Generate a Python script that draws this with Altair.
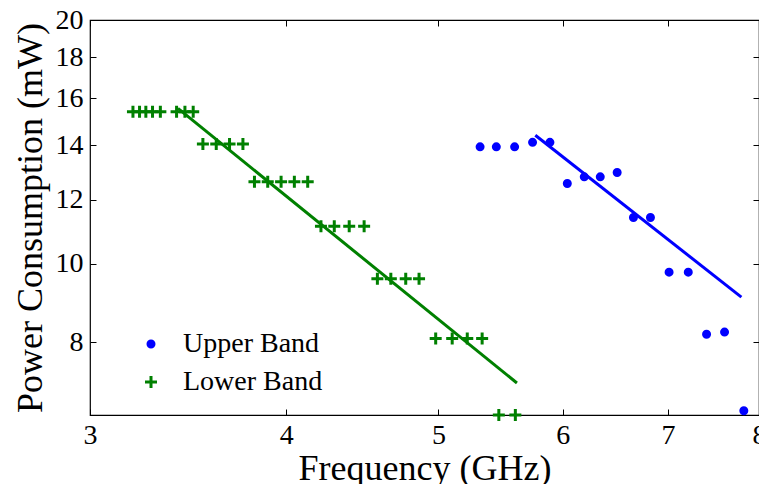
import altair as alt
import pandas as pd

# ---- data ----
upper_freq = [5.315, 5.443, 5.591, 5.740, 5.888, 6.040, 6.192, 6.339, 6.498,
              6.655, 6.823, 7.012, 7.212, 7.408, 7.606, 7.824]
upper_power = [13.94, 13.94, 13.94, 14.12, 14.12, 12.56, 12.80, 12.80, 12.96,
               11.40, 11.40, 9.76, 9.76, 8.18, 8.23, 6.58]

lower_freq = [3.195, 3.226, 3.256, 3.288, 3.326, 3.406, 3.448, 3.490,
              3.540, 3.610, 3.681, 3.754,
              3.818, 3.893, 3.970, 4.048, 4.128,
              4.209, 4.292, 4.387, 4.484,
              4.572, 4.663, 4.766, 4.860,
              4.980, 5.102, 5.216, 5.331,
              5.463, 5.597]
lower_power = [15.40, 15.40, 15.40, 15.40, 15.40, 15.40, 15.40, 15.40,
               14.05, 14.05, 14.05, 14.05,
               12.62, 12.62, 12.62, 12.62, 12.62,
               11.12, 11.12, 11.12, 11.12,
               9.58, 9.58, 9.58, 9.58,
               8.08, 8.08, 8.08, 8.08,
               6.50, 6.50]

upper_fit_freq = [5.763, 7.796]
upper_fit_power = [14.41, 9.09]
lower_fit_freq = [3.413, 5.610]
lower_fit_power = [15.55, 7.12]

x_ticks = [3, 4, 5, 6, 7, 8]
y_ticks = [8, 10, 12, 14, 16, 18, 20]
bands = ["Upper Band", "Lower Band"]

points = pd.DataFrame({
    "freq": upper_freq + lower_freq,
    "power": upper_power + lower_power,
    "band": [bands[0]] * len(upper_freq) + [bands[1]] * len(lower_freq),
})
fit_up = pd.DataFrame({"freq": upper_fit_freq, "power": upper_fit_power})
fit_lo = pd.DataFrame({"freq": lower_fit_freq, "power": lower_fit_power})

BLUE = "#0000ff"
GREEN = "#008000"
CIRCLE = "M0.5,0A0.5,0.5,0,1,1,-0.5,0A0.5,0.5,0,1,1,0.5,0Z"
CROSS = "M-1,0H1M0,-1V1"
FONT = "Liberation Serif"

xscale = alt.Scale(type="log", domain=[3, 8], nice=False)
yscale = alt.Scale(type="log", domain=[6.5, 20], nice=False)

pts = alt.Chart(points).mark_point(strokeWidth=3, size=144, opacity=1).encode(
    x=alt.X("freq:Q", scale=xscale, title="Frequency (GHz)",
            axis=alt.Axis(orient="bottom", values=x_ticks, format="d", offset=-6,
                          tickSize=6, labelPadding=6, titlePadding=2,
                          labelOverlap=False, labelFlush=False)),
    y=alt.Y("power:Q", scale=yscale, title="Power Consumption (mW)",
            axis=alt.Axis(orient="left", values=y_ticks, format="d", offset=-6,
                          tickSize=6, labelPadding=7, titlePadding=6,
                          labelOverlap=False, labelFlush=False)),
    shape=alt.Shape("band:N", scale=alt.Scale(domain=bands, range=[CIRCLE, CROSS]), title=None),
    stroke=alt.Stroke("band:N", scale=alt.Scale(domain=bands, range=[BLUE, GREEN]), title=None),
    fill=alt.Fill("band:N", scale=alt.Scale(domain=bands, range=[BLUE, "transparent"]), title=None),
)

line_up = alt.Chart(fit_up).mark_line(color=BLUE, strokeWidth=3).encode(
    x=alt.X("freq:Q", scale=xscale, axis=None),
    y=alt.Y("power:Q", scale=yscale, axis=None),
)

line_lo = alt.Chart(fit_lo).mark_line(color=GREEN, strokeWidth=3).encode(
    x=alt.X("freq:Q", scale=xscale, title=None,
            axis=alt.Axis(orient="top", values=x_ticks, offset=-6, tickSize=6,
                          labels=False)),
    y=alt.Y("power:Q", scale=yscale, title=None,
            axis=alt.Axis(orient="right", values=y_ticks, offset=-6, tickSize=6,
                          labels=False)),
)

chart = alt.layer(pts, line_up, line_lo).resolve_axis(
    x="independent", y="independent"
).properties(
    width=669, height=395,
    padding={"left": 82, "top": 12, "right": 0, "bottom": 72},
    autosize=alt.AutoSizeParams(type="none"),
).configure(
    font=FONT,
).configure_axis(
    labelFont=FONT, labelFontSize=28, labelColor="black",
    titleFont=FONT, titleFontSize=36, titleFontWeight="normal", titleColor="black",
    tickColor="black", tickWidth=1, grid=False, domain=False,
).configure_view(
    stroke="black", strokeWidth=1.2,
).configure_legend(
    orient="none", legendX=47, legendY=310,
    labelFont=FONT, labelFontSize=28, labelColor="black",
    symbolSize=144, symbolStrokeWidth=3, labelOffset=18, rowPadding=10,
    padding=0, labelLimit=400,
)

chart.save("out.html", embed_options={"renderer": "svg", "actions": False})
